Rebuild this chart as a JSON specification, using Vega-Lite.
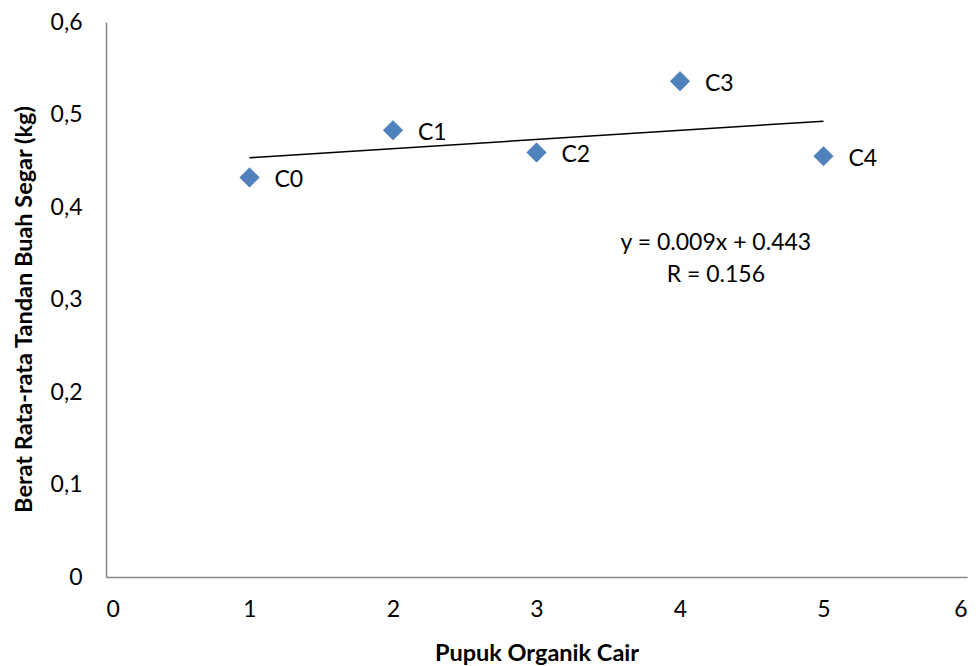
{
  "$schema": "https://vega.github.io/schema/vega-lite/v6.json",
  "autosize": {"type": "none"},
  "width": 861,
  "height": 555,
  "padding": {"left": 106, "top": 22, "right": 11, "bottom": 89},
  "background": "white",
  "config": {
    "view": {"stroke": null},
    "font": "Lato",
    "axis": {"grid": false, "ticks": false, "domainColor": "#868686", "domainWidth": 1.5, "labelFont": "Lato", "labelFontSize": 23, "labelColor": "#000", "titleFont": "Lato", "titleFontSize": 23.5, "titleFontWeight": "bold", "titleColor": "#000"}
  },
  "data": {"values": [
    {"x": 1, "y": 0.432, "label": "C0"},
    {"x": 2, "y": 0.483, "label": "C1"},
    {"x": 3, "y": 0.459, "label": "C2"},
    {"x": 4, "y": 0.536, "label": "C3"},
    {"x": 5, "y": 0.455, "label": "C4"}
  ]},
  "layer": [
    {
      "transform": [{"regression": "y", "on": "x", "method": "linear"}],
      "mark": {"type": "line", "color": "#000", "strokeWidth": 1.5},
      "encoding": {
        "x": {"field": "x", "type": "quantitative"},
        "y": {"field": "y", "type": "quantitative"}
      }
    },
    {
      "mark": {"type": "point", "shape": "diamond", "filled": true, "size": 380, "color": "#4F81BD", "opacity": 1, "stroke": "#3A6AA8", "strokeWidth": 0.5},
      "encoding": {
        "x": {"field": "x", "type": "quantitative", "scale": {"domain": [0, 6], "nice": false}, "axis": {"values": [0,1,2,3,4,5,6], "format": "d", "title": "Pupuk Organik Cair", "labelPadding": 21, "titlePadding": 20}},
        "y": {"field": "y", "type": "quantitative", "scale": {"domain": [0, 0.6], "nice": false}, "axis": {"values": [0,0.1,0.2,0.3,0.4,0.5,0.6], "title": "Berat Rata-rata Tandan Buah Segar (kg)", "labelPadding": 24, "titlePadding": 14, "titleY": 287, "labelExpr": "datum.value == 0 ? '0' : replace(format(datum.value, '.1f'), '.', ',')"}}
      }
    },
    {
      "mark": {"type": "text", "align": "left", "baseline": "middle", "dx": 25, "dy": 3, "fontSize": 23, "fontWeight": "normal", "color": "#000"},
      "encoding": {
        "x": {"field": "x", "type": "quantitative"},
        "y": {"field": "y", "type": "quantitative"},
        "text": {"field": "label"}
      }
    },
    {
      "data": {"values": [{"note": "trend"}]},
      "mark": {"type": "text", "align": "center", "fontSize": 23, "fontWeight": "normal", "color": "#000", "lineHeight": 32, "baseline": "middle"},
      "encoding": {
        "x": {"datum": 4.25},
        "y": {"datum": 0.361},
        "text": {"value": ["y = 0.009x + 0.443", "R = 0.156"]}
      }
    }
  ]
}
